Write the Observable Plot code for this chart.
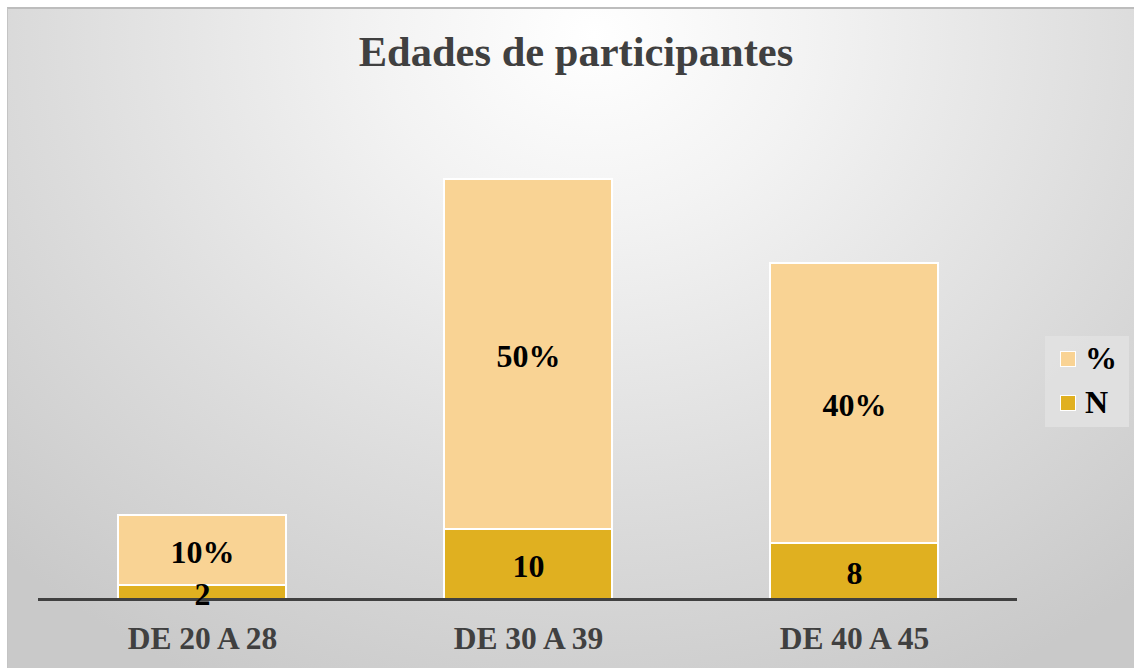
<!DOCTYPE html>
<html>
<head>
<meta charset="utf-8">
<script src="https://cdn.jsdelivr.net/npm/d3@7"></script>
<script src="https://cdn.jsdelivr.net/npm/@observablehq/plot@0.6"></script>
<style>
  html, body { margin: 0; padding: 0; background: #fff; }
  #page { position: relative; width: 1134px; height: 668px; overflow: hidden; font-family: "Liberation Serif", "Times New Roman", serif; }
  #bg { position: absolute; left: 7px; top: 7px; width: 1127px; height: 661px;
        border-top: 2px solid #bdbdbd; border-left: 1px solid #c4c4c4; box-sizing: border-box;
        background: radial-gradient(ellipse 75% 110% at 52% 4%, #ffffff 0%, #f3f3f3 25%, #dcdcdc 65%, #c9c9c9 100%); }
  #title { position: absolute; left: 0; width: 1152px; top: 27px; text-align: center; font-weight: bold; font-size: 42.5px; color: #404040; }
  #chart { position: absolute; left: 0; top: 0; }
  #legend { position: absolute; left: 1045px; top: 336px; width: 84px; height: 91px; background: rgba(225,225,225,0.9); }
  .item { position: absolute; left: 15px; display: flex; align-items: center; font-weight: bold; font-size: 32px; color: #000; }
  .sw { width: 14px; height: 14px; border: 1px solid #fff; margin-right: 9px; }
</style>
</head>
<body>
<div id="page">
  <div id="bg"></div>
  <div id="title">Edades de participantes</div>
  <div id="chart"></div>
  <div id="legend"></div>
</div>
<script>
const categories = ["DE 20 A 28", "DE 30 A 39", "DE 40 A 45"];
const seriesNames = ["N", "%"];
const nValues = [2, 10, 8];
const pctValues = [10, 50, 40];
const colors = ["#E0B020", "#F9D394"];

const data = [];
categories.forEach((c, i) => {
  data.push({cat: c, series: "N", value: nValues[i], label: String(nValues[i])});
  data.push({cat: c, series: "%", value: pctValues[i], label: pctValues[i] + "%"});
});

const plot = Plot.plot({
  width: 1134,
  height: 668,
  marginLeft: 38,
  marginRight: 117,
  marginTop: 39,
  marginBottom: 69,
  style: {background: "transparent", fontFamily: "'Liberation Serif', 'Times New Roman', serif"},
  x: {domain: categories, paddingInner: 0.485, paddingOuter: 0.2425, label: null},
  y: {domain: [0, 80], axis: null},
  color: {domain: seriesNames, range: colors},
  marks: [
    Plot.barY(data, {x: "cat", y: "value", fill: "series", order: seriesNames, stroke: "white", strokeWidth: 2}),
    Plot.ruleY([0], {stroke: "#404040", strokeWidth: 3}),
    Plot.text(data, Plot.stackY({x: "cat", y: "value", z: "series", order: seriesNames, text: "label",
      fill: "#000", fontWeight: "bold", fontSize: 32, dy: 2})),
    Plot.axisX({tickSize: 0, tickPadding: 27, fontSize: 31.5, fontWeight: "bold", fill: "#404040", label: null})
  ]
});
document.getElementById("chart").appendChild(plot);

const legend = document.getElementById("legend");
[["%", 1], ["N", 0]].forEach(([name, ci], k) => {
  const it = document.createElement("div");
  it.className = "item";
  it.style.top = (k === 0 ? 4 : 48) + "px";
  const sw = document.createElement("div");
  sw.className = "sw";
  sw.style.background = colors[ci];
  it.appendChild(sw);
  const t = document.createElement("span");
  t.textContent = name;
  it.appendChild(t);
  legend.appendChild(it);
});
</script>
</body>
</html>
